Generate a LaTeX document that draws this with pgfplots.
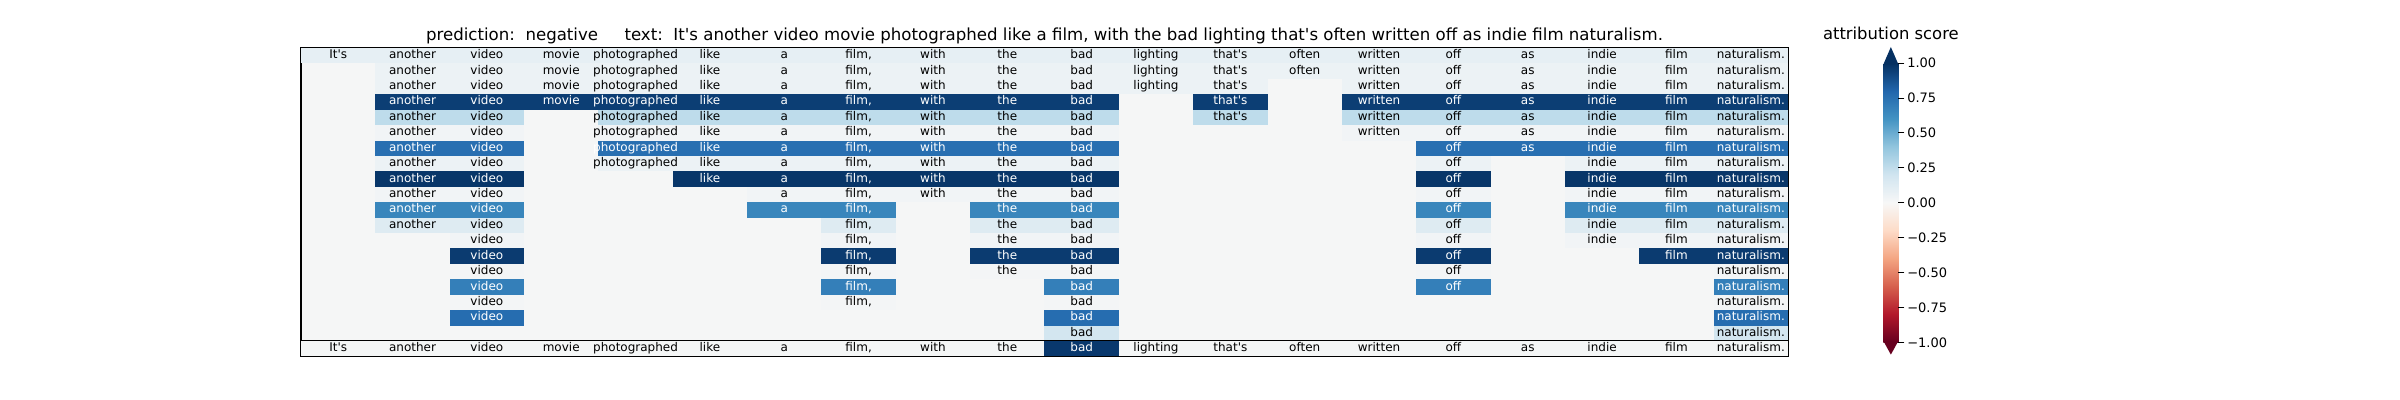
\documentclass[border=0pt]{standalone}
\usepackage{fontspec}
\setmainfont{DejaVu Sans}[Ligatures=TeXOff]
\usepackage{pgfplots}
\usepackage{pgfplotstable}
\pgfplotsset{compat=1.18}
\frenchspacing

\pgfplotsset{colormap={RdBu}{rgb255=(103,0,31) rgb255=(178,24,43) rgb255=(214,96,77) rgb255=(244,165,130) rgb255=(253,219,199) rgb255=(247,247,247) rgb255=(209,229,240) rgb255=(146,197,222) rgb255=(67,147,195) rgb255=(33,102,172) rgb255=(5,48,97)}}
\definecolor{bgc}{RGB}{245,246,246}
\definecolor{cbtop}{RGB}{5,48,97}
\definecolor{cbbot}{RGB}{103,0,31}

\pgfdeclareplotmark{cellA}{\pgfpathrectangle{\pgfpoint{-27.9pt}{-5.8pt}}{\pgfpoint{55.8pt}{11.6pt}}\pgfusepathqfill}
\pgfdeclareplotmark{cellB}{\pgfpathrectangle{\pgfpoint{-27.9pt}{-5.65pt}}{\pgfpoint{55.8pt}{11.3pt}}\pgfusepathqfill}

\pgfplotsset{
  heat/.style={scale only axis, width=1115.25pt, xmin=-0.5, xmax=19.5,
    xtick=\empty, ytick=\empty, colormap name=RdBu,
    point meta min=-1, point meta max=1,
    axis background/.style={fill=bgc},
    axis line style={line width=0.8pt}, y dir=reverse},
  cellplot/.style={scatter, only marks, mark=#1,
    scatter/use mapped color={draw=mapped color, fill=mapped color},
    point meta=explicit},
  wordplot/.style={draw=none, mark=none, point meta=explicit symbolic,
    nodes near coords={\pgfplotspointmeta},
    every node near coord/.style={font=\fontsize{9}{10}\selectfont,
      inner sep=0pt, anchor=base, yshift=-2.25pt, text=#1}},
}

% rows of the word-deletion heatmap: x = word index, y = row, v = attribution, w = word
\pgfplotstableread{
x y v w
0 1 0.09 It's
1 1 0.09 another
2 1 0.09 video
3 1 0.09 movie
4 1 0.09 photographed
5 1 0.09 like
6 1 0.09 a
7 1 0.09 film,
8 1 0.09 with
9 1 0.09 the
10 1 0.09 bad
11 1 0.09 lighting
12 1 0.09 that's
13 1 0.09 often
14 1 0.09 written
15 1 0.09 off
16 1 0.09 as
17 1 0.09 indie
18 1 0.09 film
19 1 0.09 naturalism.
1 2 0.06 another
2 2 0.06 video
3 2 0.06 movie
4 2 0.06 photographed
5 2 0.06 like
6 2 0.06 a
7 2 0.06 film,
8 2 0.06 with
9 2 0.06 the
10 2 0.06 bad
11 2 0.06 lighting
12 2 0.06 that's
13 2 0.06 often
14 2 0.06 written
15 2 0.06 off
16 2 0.06 as
17 2 0.06 indie
18 2 0.06 film
19 2 0.06 naturalism.
1 3 0.06 another
2 3 0.06 video
3 3 0.06 movie
4 3 0.06 photographed
5 3 0.06 like
6 3 0.06 a
7 3 0.06 film,
8 3 0.06 with
9 3 0.06 the
10 3 0.06 bad
11 3 0.06 lighting
12 3 0.06 that's
14 3 0.06 written
15 3 0.06 off
16 3 0.06 as
17 3 0.06 indie
18 3 0.06 film
19 3 0.06 naturalism.
1 4 0.95 another
2 4 0.95 video
3 4 0.95 movie
4 4 0.95 photographed
5 4 0.95 like
6 4 0.95 a
7 4 0.95 film,
8 4 0.95 with
9 4 0.95 the
10 4 0.95 bad
12 4 0.95 that's
14 4 0.95 written
15 4 0.95 off
16 4 0.95 as
17 4 0.95 indie
18 4 0.95 film
19 4 0.95 naturalism.
1 5 0.26 another
2 5 0.26 video
4 5 0.26 photographed
5 5 0.26 like
6 5 0.26 a
7 5 0.26 film,
8 5 0.26 with
9 5 0.26 the
10 5 0.26 bad
12 5 0.26 that's
14 5 0.26 written
15 5 0.26 off
16 5 0.26 as
17 5 0.26 indie
18 5 0.26 film
19 5 0.26 naturalism.
1 6 0.03 another
2 6 0.03 video
4 6 0.03 photographed
5 6 0.03 like
6 6 0.03 a
7 6 0.03 film,
8 6 0.03 with
9 6 0.03 the
10 6 0.03 bad
14 6 0.03 written
15 6 0.03 off
16 6 0.03 as
17 6 0.03 indie
18 6 0.03 film
19 6 0.03 naturalism.
1 7 0.76 another
2 7 0.76 video
4 7 0.76 photographed
5 7 0.76 like
6 7 0.76 a
7 7 0.76 film,
8 7 0.76 with
9 7 0.76 the
10 7 0.76 bad
15 7 0.76 off
16 7 0.76 as
17 7 0.76 indie
18 7 0.76 film
19 7 0.76 naturalism.
1 8 0.06 another
2 8 0.06 video
4 8 0.06 photographed
5 8 0.06 like
6 8 0.06 a
7 8 0.06 film,
8 8 0.06 with
9 8 0.06 the
10 8 0.06 bad
15 8 0.06 off
17 8 0.06 indie
18 8 0.06 film
19 8 0.06 naturalism.
1 9 0.98 another
2 9 0.98 video
5 9 0.98 like
6 9 0.98 a
7 9 0.98 film,
8 9 0.98 with
9 9 0.98 the
10 9 0.98 bad
15 9 0.98 off
17 9 0.98 indie
18 9 0.98 film
19 9 0.98 naturalism.
1 10 0.03 another
2 10 0.03 video
6 10 0.03 a
7 10 0.03 film,
8 10 0.03 with
9 10 0.03 the
10 10 0.03 bad
15 10 0.03 off
17 10 0.03 indie
18 10 0.03 film
19 10 0.03 naturalism.
1 11 0.66 another
2 11 0.66 video
6 11 0.66 a
7 11 0.66 film,
9 11 0.66 the
10 11 0.66 bad
15 11 0.66 off
17 11 0.66 indie
18 11 0.66 film
19 11 0.66 naturalism.
1 12 0.13 another
2 12 0.13 video
7 12 0.13 film,
9 12 0.13 the
10 12 0.13 bad
15 12 0.13 off
17 12 0.13 indie
18 12 0.13 film
19 12 0.13 naturalism.
2 13 0.03 video
7 13 0.03 film,
9 13 0.03 the
10 13 0.03 bad
15 13 0.03 off
17 13 0.03 indie
18 13 0.03 film
19 13 0.03 naturalism.
2 14 0.96 video
7 14 0.96 film,
9 14 0.96 the
10 14 0.96 bad
15 14 0.96 off
18 14 0.96 film
19 14 0.96 naturalism.
2 15 0.02 video
7 15 0.02 film,
9 15 0.02 the
10 15 0.02 bad
15 15 0.02 off
19 15 0.02 naturalism.
2 16 0.69 video
7 16 0.69 film,
10 16 0.69 bad
15 16 0.69 off
19 16 0.69 naturalism.
2 17 0.02 video
7 17 0.02 film,
10 17 0.02 bad
19 17 0.02 naturalism.
2 18 0.77 video
10 18 0.77 bad
19 18 0.77 naturalism.
10 19 0.19 bad
19 19 0.19 naturalism.
}\rowstable

\pgfplotstableread{
x y v w
0 1 0.015 It's
1 1 0.015 another
2 1 0.015 video
3 1 0.015 movie
4 1 0.015 photographed
5 1 0.015 like
6 1 0.015 a
7 1 0.015 film,
8 1 0.015 with
9 1 0.015 the
10 1 0.97 bad
11 1 0.015 lighting
12 1 0.015 that's
13 1 0.015 often
14 1 0.015 written
15 1 0.015 off
16 1 0.015 as
17 1 0.015 indie
18 1 0.015 film
19 1 0.015 naturalism.
}\fulltable

\begin{document}
\begin{tikzpicture}
\path[use as bounding box] (0,0) rectangle (1800pt,300pt);
\begin{axis}[heat, at={(225.75pt,44.25pt)}, anchor=south west,
  height=219.75pt, ymin=0.5, ymax=19.5,
  title={prediction:~~negative~~~~~text:~~It's another video movie photographed like a film, with the bad lighting that's often written off as indie film naturalism.},
  title style={at={(0.5,1)}, anchor=base, inner sep=0pt,
    font=\fontsize{12.45}{14}\selectfont},
  colorbar,
  colorbar style={
    at={(parent axis.north east)}, anchor=north west,
    xshift=63pt, yshift=-11.25pt,
    scale only axis, width=11.25pt, height=209.5pt,
    axis line style={draw=none},
    xtick=\empty,
    ytick={-1,-0.75,-0.5,-0.25,0,0.25,0.5,0.75,1},
    yticklabels={−1.00,−0.75,−0.50,−0.25,0.00,0.25,0.50,0.75,1.00},
    ytick pos=right, yticklabel pos=right, tick align=outside,
    major tick length=4.5pt,
    tick style={black, line width=0.6pt},
    yticklabel style={font=\fontsize{9.75}{11}\selectfont, anchor=west,
      inner sep=0pt, xshift=2pt},
    title={attribution score},
    title style={at={(0.5,1)}, anchor=base, yshift=11.5pt, inner sep=0pt,
      font=\fontsize{12.3}{14}\selectfont},
    extra description/.code={
      \fill[cbtop] (axis description cs:0,0.995) -- (axis description cs:0.5,1.0573)
        -- (axis description cs:1,0.995) -- cycle;
      \fill[cbbot] (axis description cs:0,0.005) -- (axis description cs:0.5,-0.044)
        -- (axis description cs:1,0.005) -- cycle;
    },
  },
]
\addplot[cellplot=cellA] table[x=x, y=y, meta=v] {\rowstable};
\addplot[wordplot=black, restrict expr to domain={\thisrow{v}}{-0.5:0.5}] table[x=x, y=y, meta=w] {\rowstable};
\addplot[wordplot=white, restrict expr to domain={\thisrow{v}}{0.5:1.5}] table[x=x, y=y, meta=w] {\rowstable};
\end{axis}
\begin{axis}[heat, at={(225.75pt,33pt)}, anchor=south west,
  height=11.25pt, ymin=0.5, ymax=1.5]
\addplot[cellplot=cellB] table[x=x, y=y, meta=v] {\fulltable};
\addplot[wordplot=black, restrict expr to domain={\thisrow{v}}{-0.5:0.5}] table[x=x, y=y, meta=w] {\fulltable};
\addplot[wordplot=white, restrict expr to domain={\thisrow{v}}{0.5:1.5}] table[x=x, y=y, meta=w] {\fulltable};
\end{axis}
\end{tikzpicture}
\end{document}
